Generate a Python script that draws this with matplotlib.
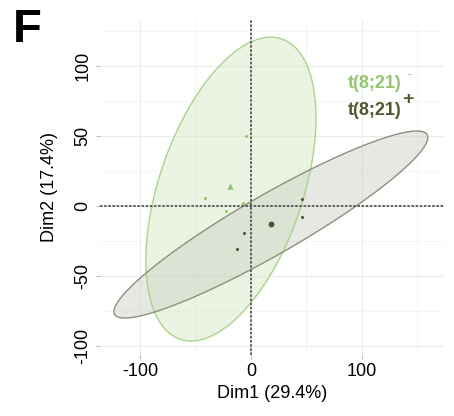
import numpy as np
import matplotlib
matplotlib.use("Agg")
import matplotlib.pyplot as plt
from matplotlib.patches import Polygon
from matplotlib.ticker import MultipleLocator

plt.rcParams["font.family"] = ["Liberation Sans", "DejaVu Sans"]
plt.rcParams["axes.unicode_minus"] = False

# groups and their colours
groups = ["t(8;21)-", "t(8;21)+"]
group_colors = ["#93c86e", "#4e5a2a"]
edge_colors = ["#a9d58a", "#8f8f7c"]
fill_colors = ["#d4e8c0", "#cbcdc3"]

# individual samples (Dim1, Dim2)
neg_x = [-4.5, -41.7, -22.5, -7.0]
neg_y = [50.0, 5.9, -3.6, 2.0]
pos_x = [46.0, 45.6, -6.3, -12.9]
pos_y = [5.0, -7.9, -19.3, -30.7]

# group centroids
cent_x = [-19.0, 18.0]
cent_y = [14.3, -13.0]

# confidence ellipses: centre, half-extent along x and y, covariance term
ell_cx = [-18.0, 18.0]
ell_cy = [12.1, -13.2]
ell_sx = [76.6, 141.4]
ell_sy = [108.5, 66.8]
ell_cxy = [3900.0, 8790.0]

fig = plt.figure(figsize=(4.54, 4.16), dpi=100)
ax = fig.add_axes([100 / 454, 1 - 355 / 416, 344 / 454, 335 / 416])

t = np.linspace(0, 2 * np.pi, 400, endpoint=False)
for i in range(2):
    cov = np.array([[ell_sx[i] ** 2, ell_cxy[i]], [ell_cxy[i], ell_sy[i] ** 2]])
    L = np.linalg.cholesky(cov)
    pts = L @ np.vstack([np.cos(t), np.sin(t)])
    xy = np.column_stack([ell_cx[i] + pts[0], ell_cy[i] + pts[1]])
    ax.add_patch(Polygon(xy, closed=True, facecolor=fill_colors[i], alpha=0.45,
                         lw=0, zorder=2))
    ax.add_patch(Polygon(xy, closed=True, fill=False, edgecolor=edge_colors[i],
                         lw=1.0, zorder=3))

ax.axhline(0, color="#555555", lw=1.3, ls=(0, (1.4, 0.9)), zorder=4)
ax.axvline(0, color="#555555", lw=1.3, ls=(0, (1.4, 0.9)), zorder=4)

ax.scatter(neg_x, neg_y, s=5, color=group_colors[0], lw=0, zorder=5)
ax.scatter(pos_x, pos_y, s=5, color=group_colors[1], lw=0, zorder=5)
ax.scatter(cent_x[0], cent_y[0], s=22, marker="^", color=group_colors[0], lw=0, zorder=5)
ax.scatter(cent_x[1], cent_y[1], s=18, marker="o", color=group_colors[1], lw=0, zorder=5)

ax.set_xlim(-136, 174)
ax.set_ylim(-106.4, 132.9)
ax.xaxis.set_major_locator(MultipleLocator(100))
ax.xaxis.set_minor_locator(MultipleLocator(50))
ax.yaxis.set_major_locator(MultipleLocator(50))
ax.yaxis.set_minor_locator(MultipleLocator(25))
ax.grid(which="major", color="#ebebeb", lw=0.8, zorder=0)
ax.grid(which="minor", color="#f3f3f3", lw=0.6, zorder=0)
ax.set_axisbelow(True)
for s in ax.spines.values():
    s.set_visible(False)

ax.tick_params(which="major", length=3, width=0.8, color="#bbbbbb",
               labelsize=13, labelcolor="black", pad=3)
ax.tick_params(which="minor", length=0)
for lab in ax.get_yticklabels():
    lab.set_rotation(90)
    lab.set_va("center")

ax.set_xlabel("Dim1 (29.4%)", fontsize=13, labelpad=3)
ax.set_ylabel("Dim2 (17.4%)", fontsize=13, labelpad=12)

# legend as coloured text
leg_y = [0.809, 0.730]
sup_x = [0.893, 0.878]
sup_y = [0.836, 0.764]
sup_size = [8, 14]
for i in range(2):
    ax.text(0.721, leg_y[i], groups[i][:-1], transform=ax.transAxes, fontsize=13,
            fontweight="bold", color=group_colors[i], ha="left", va="center")
    ax.text(sup_x[i], sup_y[i], groups[i][-1], transform=ax.transAxes,
            fontsize=sup_size[i], fontweight="bold", color=group_colors[i],
            ha="left", va="center")

fig.text(13 / 454, 1 - 30 / 416, "F", fontsize=34, fontweight="bold", ha="left", va="center")

fig.savefig("out.png", dpi=100)
